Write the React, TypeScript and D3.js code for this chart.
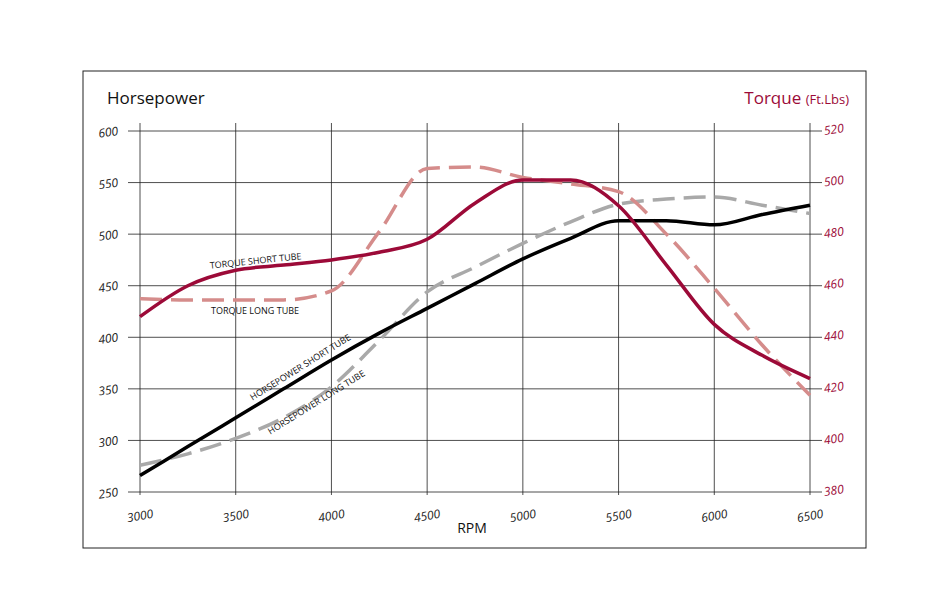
import * as d3 from "d3";

const rpm = [3000, 3250, 3500, 3750, 4000, 4250, 4500, 4750, 5000, 5250, 5500, 5750, 6000, 6250, 6500];
const hpShort = [266, 294, 322, 350, 378, 404, 428, 452, 476, 496, 513, 513, 509, 519, 528];
const hpLong = [276, 287, 302, 322, 352, 397, 444, 468, 491, 512, 529, 534, 536, 528, 520];
const tqShort = [448, 460, 466, 468, 470, 473, 478, 492, 501, 501, 491, 468, 445, 433, 424];
const tqLong = [455, 454.5, 454.5, 454.5, 458, 481, 505.5, 506, 502, 499.5, 496.5, 480, 459, 437, 417.5];
const xTicks = [3000, 3500, 4000, 4500, 5000, 5500, 6000, 6500];
const hpTicks = [250, 300, 350, 400, 450, 500, 550, 600];
const tqTicks = [380, 400, 420, 440, 460, 480, 500, 520];

const CRIMSON = "#9c0a38";
const PINK = "#d58c8b";
const GRAY = "#a9a9a9";
const FONT = "'Open Sans', 'DejaVu Sans', sans-serif";

export default function App() {
  const x = d3.scaleLinear().domain([3000, 6500]).range([140, 810]);
  const yL = d3.scaleLinear().domain([250, 600]).range([492, 131]);
  const yR = d3.scaleLinear().domain([380, 520]).range([492, 131]);
  const lineL = d3.line<number>().x((_, i) => x(rpm[i])).y(d => yL(d)).curve(d3.curveMonotoneX);
  const lineR = d3.line<number>().x((_, i) => x(rpm[i])).y(d => yR(d)).curve(d3.curveMonotoneX);

  const label = (t: string, px: number, py: number, rot: number) => (
    <text x={px} y={py} transform={`rotate(${rot},${px},${py})`} fontSize={9} fontFamily={FONT} textAnchor="middle" fill="#111">{t}</text>
  );

  return (
    <svg width={936} height={612} style={{ position: "absolute", left: 0, top: 0, background: "#fff" }}>
      <rect x={83} y={71} width={783} height={477} fill="none" stroke="#222" strokeWidth={1} />
      {xTicks.map(t => (
        <line key={t} x1={x(t)} x2={x(t)} y1={123} y2={495} stroke="#222" strokeWidth={0.8} />
      ))}
      {hpTicks.map(t => (
        <line key={t} x1={128} x2={822} y1={yL(t)} y2={yL(t)} stroke="#222" strokeWidth={0.8} />
      ))}
      {hpTicks.map(t => (
        <text key={t} x={118} y={yL(t) + 4} textAnchor="end" fontSize={12} fontStyle="italic" fontFamily={FONT} fill="#222"
          transform={`rotate(-8,118,${yL(t)})`}>{t}</text>
      ))}
      {tqTicks.map(t => (
        <text key={t} x={824} y={yR(t) + 4} textAnchor="start" fontSize={12} fontStyle="italic" fontFamily={FONT} fill={CRIMSON}
          transform={`rotate(-8,824,${yR(t)})`}>{t}</text>
      ))}
      {xTicks.map(t => (
        <text key={t} x={x(t)} y={520} textAnchor="middle" fontSize={12} fontStyle="italic" fontFamily={FONT} fill="#222"
          transform={`rotate(-10,${x(t)},516)`}>{t}</text>
      ))}
      <text x={472} y={533} textAnchor="middle" fontSize={14} fontFamily={FONT} fill="#111">RPM</text>
      <text x={107} y={104} fontSize={17} fontFamily={FONT} fill="#111">Horsepower</text>
      <text x={849} y={104} textAnchor="end" fontFamily={FONT} fill={CRIMSON}>
        <tspan fontSize={17}>Torque </tspan><tspan fontSize={13}>(Ft.Lbs)</tspan>
      </text>
      <path d={lineL(hpLong)!} fill="none" stroke={GRAY} strokeWidth={3.5} strokeDasharray="22,9" />
      <path d={lineR(tqLong)!} fill="none" stroke={PINK} strokeWidth={3.5} strokeDasharray="22,9" />
      <path d={lineL(hpShort)!} fill="none" stroke="#000" strokeWidth={3.5} />
      <path d={lineR(tqShort)!} fill="none" stroke={CRIMSON} strokeWidth={3.5} />
      {label("TORQUE SHORT TUBE", 256, 264, -6)}
      {label("TORQUE LONG TUBE", 255, 314, 0)}
      {label("HORSEPOWER SHORT TUBE", 302, 370, -32)}
      {label("HORSEPOWER LONG TUBE", 318, 405, -32)}
    </svg>
  );
}
